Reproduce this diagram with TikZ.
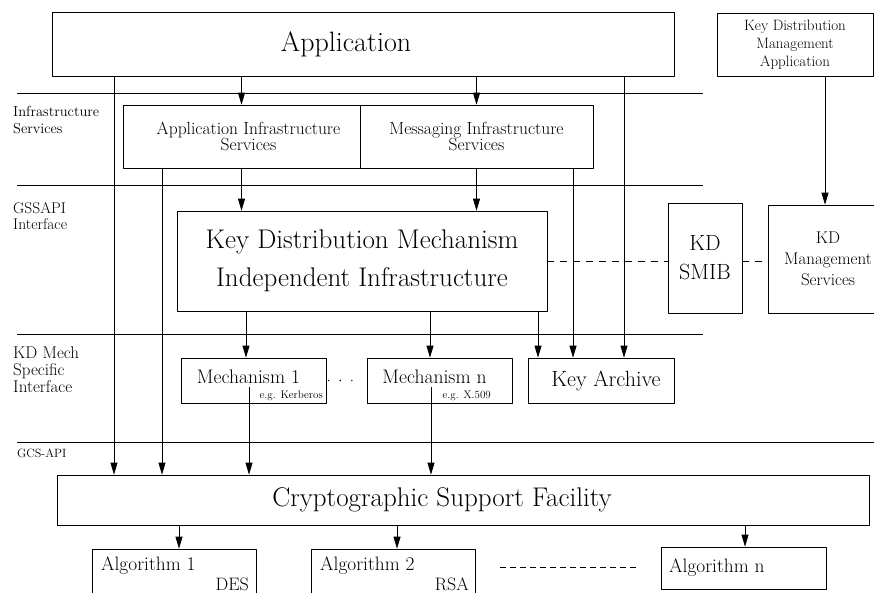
\documentclass[tikz,border=0pt]{standalone}
\usetikzlibrary{arrows.meta}
\begin{document}
\begin{tikzpicture}[x=1pt,y=-1pt,line join=round,
    box/.style={draw,line width=.7pt,inner sep=0pt,align=center},
    mechbox/.style={box,minimum width=145pt,minimum height=45pt,text height=14pt,text depth=9pt,font=\fontsize{19.6}{22}\selectfont},
    arr/.style={line width=.7pt,-{Triangle[length=12pt,width=7pt]}},
    wire/.style={line width=.7pt},
    lvl/.style={anchor=north west,inner sep=0pt,align=left},
    txt/.style={inner sep=0pt}]
  \useasboundingbox (0,0) rectangle (874,592);
  % layer separators
  \draw[wire] (17,93) -- (703,93) (17,185) -- (703,185) (17,334) -- (703,334) (17,442) -- (874,442);
  \node[lvl,font=\fontsize{14.5}{17}\selectfont] (lvinfra) at (13,106) {Infrastructure\\Services};
  \node[lvl,font=\fontsize{15.5}{16}\selectfont] (lvgss) at (13,202.5) {GSSAPI\\Interface};
  \node[lvl,font=\fontsize{17}{17}\selectfont] (lvmech) at (13,346.5) {KD Mech\\Specific\\Interface};
  \node[txt,anchor=base west,font=\fontsize{12}{14}\selectfont] (lvgcs) at (17,457) {GCS-API};
  % boxes
  \node[box,minimum width=622pt,minimum height=64pt,font=\fontsize{28}{32}\selectfont] (app) at (363,44) {\hspace*{-34pt}Application};
  \node[box,minimum width=156pt,minimum height=63pt,font=\fontsize{15}{18}\selectfont] (kdma) at (795,44.5) {Key Distribution\\Management\\Application};
  \node[box,minimum width=237pt,minimum height=63pt,font=\fontsize{17.5}{16}\selectfont] (ais) at (241.5,136.5) {\hspace*{14pt}Application Infrastructure\\\hspace*{14pt}Services};
  \node[box,minimum width=233pt,minimum height=63pt,font=\fontsize{17.5}{16}\selectfont] (mis) at (476.5,136.5) {Messaging Infrastructure\\Services};
  \node[box,minimum width=370pt,minimum height=100pt,font=\fontsize{27}{38}\selectfont] (kdmi) at (362,261) {Key Distribution Mechanism\\Independent Infrastructure};
  \node[box,minimum width=74pt,minimum height=110pt,font=\fontsize{22}{29}\selectfont] (smib) at (705,258) {KD\\SMIB};
  \node[box,minimum width=120pt,minimum height=108pt,font=\fontsize{17}{21}\selectfont] (kdms) at (828,259) {KD\\Management\\Services};
  \node[mechbox] (m1) at (253.5,380.5) {\hspace*{-10pt}Mechanism 1};
  \node[mechbox] (mn) at (439.5,380.5) {\hspace*{-10pt}Mechanism n};
  \node[box,minimum width=146pt,minimum height=45pt,font=\fontsize{22}{26}\selectfont] (ka) at (601,380.5) {\hspace*{10pt}Key Archive};
  \node[txt,anchor=base east,font=\fontsize{11}{13}\selectfont] (m1eg) at (323,398) {e.g. Kerberos};
  \node[txt,anchor=base east,font=\fontsize{11}{13}\selectfont] (mneg) at (491,398) {e.g. X.509};
  \node[box,minimum width=812pt,minimum height=50pt,font=\fontsize{27}{32}\selectfont] (csf) at (463,500) {\hspace*{-42pt}Cryptographic Support Facility};
  \node[box,minimum width=164pt,minimum height=48pt] (alg1) at (174,573) {};
  \node[box,minimum width=164pt,minimum height=48pt] (alg2) at (393,573) {};
  \node[box,minimum width=165pt,minimum height=42pt] (algn) at (743.5,568) {};
  \node[txt,anchor=base west,font=\fontsize{19.4}{22}\selectfont] (alg1t) at (101,570) {Algorithm 1};
  \node[txt,anchor=base east,font=\fontsize{18}{20}\selectfont] (alg1s) at (249,590) {DES};
  \node[txt,anchor=base west,font=\fontsize{19.4}{22}\selectfont] (alg2t) at (320,570) {Algorithm 2};
  \node[txt,anchor=base east,font=\fontsize{18}{20}\selectfont] (alg2s) at (469,590) {RSA};
  \node[txt,anchor=base west,font=\fontsize{19.4}{22}\selectfont] (algnt) at (669,572) {Algorithm n};
  % lanes
  \coordinate (lA) at (114,0);
  \coordinate (lB) at (162,0);
  \coordinate (lC) at (573,0);
  \coordinate (lD) at (624,0);
  \coordinate (lM1) at (246,0);
  \coordinate (lMn) at (430,0);
  \coordinate (lKA) at (538,0);
  \coordinate (lS1) at (179,0);
  \coordinate (lS2) at (397,0);
  \coordinate (lSn) at (745,0);
  \coordinate (lKM) at (825,0);
  \coordinate (m1out) at (249,387);
  \coordinate (mnout) at (431,387);
  % connectors
  \draw[arr] (app.south -| ais.north) -- (ais.north);
  \draw[arr] (app.south -| mis.north) -- (mis.north);
  \draw[arr] (ais.south) -- (ais.south |- kdmi.north);
  \draw[arr] (mis.south) -- (mis.south |- kdmi.north);
  \draw[arr] (app.south -| lA) -- (csf.north -| lA);
  \draw[arr] (ais.south -| lB) -- (csf.north -| lB);
  \draw[arr] (mis.south -| lC) -- (ka.north -| lC);
  \draw[arr] (app.south -| lD) -- (ka.north -| lD);
  \draw[arr] (kdmi.south -| lM1) -- (m1.north -| lM1);
  \draw[arr] (kdmi.south -| lMn) -- (mn.north -| lMn);
  \draw[arr] (kdmi.south -| lKA) -- (ka.north -| lKA);
  \draw[arr] (m1out) -- (csf.north -| m1out);
  \draw[arr] (mnout) -- (csf.north -| mnout);
  \draw[arr] (csf.south -| lS1) -- (alg1.north -| lS1);
  \draw[arr] (csf.south -| lS2) -- (alg2.north -| lS2);
  \draw[arr] (csf.south -| lSn) -- (algn.north -| lSn);
  \draw[arr] (kdma.south -| lKM) -- (kdms.north -| lKM);
  \draw[wire,dash pattern=on 7pt off 6pt] (kdmi.east) -- (kdmi.east -| smib.west)
    (smib.east |- kdmi.east) -- (kdmi.east -| kdms.west);
  \draw[line width=1.6pt,line cap=round,dash pattern=on 0pt off 11.6pt,shorten <=2.3pt,shorten >=3.7pt] (m1.east) -- (mn.west);
  \draw[wire,dash pattern=on 6pt off 4pt,shorten <=25pt,shorten >=22pt] ([yshift=6pt]alg2.east) -- ([yshift=6pt]alg2.east -| algn.west);
\end{tikzpicture}
\end{document}
